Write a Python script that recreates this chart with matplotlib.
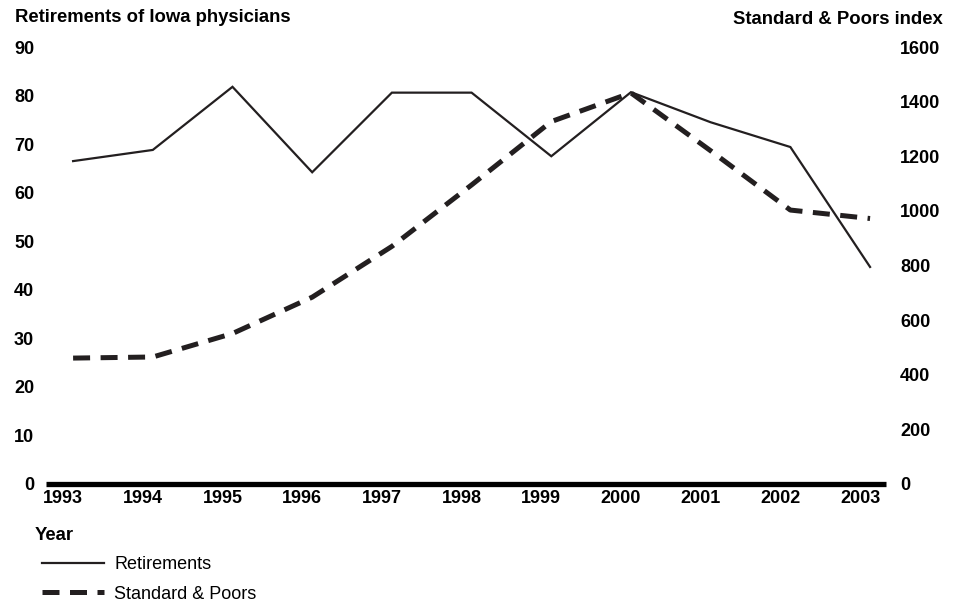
import matplotlib
matplotlib.use("Agg")
import matplotlib.pyplot as plt
import matplotlib.transforms as mtrans
from matplotlib.lines import Line2D

years = [1993, 1994, 1995, 1996, 1997, 1998, 1999, 2000, 2001, 2002, 2003]
retirements = [66.5, 68.8, 81.8, 64.2, 80.6, 80.6, 67.5, 80.7, 74.5, 69.4, 44.7]
sp_index = [461, 465, 551, 684, 870, 1095, 1327, 1432, 1220, 1003, 972]
left_ticks = [0, 10, 20, 30, 40, 50, 60, 70, 80, 90]
right_ticks = [0, 200, 400, 600, 800, 1000, 1200, 1400, 1600]

INK = "#231f20"
plt.rcParams['font.family'] = ['Liberation Sans', 'DejaVu Sans']
FS = 13
FS_T = 13.3

fig = plt.figure(figsize=(9.59, 6.04), dpi=100)
W, H = 959, 604
ax = fig.add_axes([46 / W, (H - 484) / H, 840 / W, 437 / H])
ax2 = ax.twinx()

ax.plot(years, retirements, color=INK, lw=1.6, solid_joinstyle='miter')
ax2.plot(years, sp_index, color=INK, lw=3.6, dashes=[3.4, 2.1], solid_joinstyle='miter')

ax.set_xlim(1992.66, 2003.2)
ax.set_ylim(0, 90)
ax2.set_ylim(0, 1600)

for a in (ax, ax2):
    for s in a.spines.values():
        s.set_visible(False)
    a.tick_params(length=0)
ax.spines['bottom'].set_visible(True)
ax.spines['bottom'].set_linewidth(3.8)
ax.spines['bottom'].set_color('black')
ax.spines['bottom'].set_capstyle('butt')

ax.set_xticks(years)
ax.set_xticklabels([str(y) for y in years], fontsize=FS, fontweight='bold')
ax.tick_params(axis='x', pad=4)
off = mtrans.ScaledTranslation(-10 / 100, 0, fig.dpi_scale_trans)
for lab in ax.get_xticklabels():
    lab.set_transform(lab.get_transform() + off)

ax.set_yticks(left_ticks)
ax.set_yticklabels([str(v) for v in left_ticks], fontsize=FS, fontweight='bold')
ax.tick_params(axis='y', pad=8.5)
ax2.set_yticks(right_ticks)
ax2.set_yticklabels([str(v) for v in right_ticks], fontsize=FS, fontweight='bold')
ax2.tick_params(axis='y', pad=10)

fig.text(15 / W, 1 - 18 / H, "Retirements of Iowa physicians", fontsize=FS_T,
         fontweight='bold', ha='left', va='center')
fig.text(943 / W, 1 - 19 / H, "Standard & Poors index", fontsize=FS_T,
         fontweight='bold', ha='right', va='center')
fig.text(35 / W, 1 - 535 / H, "Year", fontsize=FS_T, fontweight='bold',
         ha='left', va='center')

handles = [Line2D([], [], color=INK, lw=1.6),
           Line2D([], [], color=INK, lw=3.6, dashes=[3.4, 2.1])]
fig.legend(handles, ["Retirements", "Standard & Poors"], loc='upper left',
           bbox_to_anchor=(42 / W, 1 - 556 / H), frameon=False, fontsize=FS,
           handlelength=3.45, handletextpad=0.55, labelspacing=0.7,
           borderpad=0, borderaxespad=0)

fig.savefig("out.png", dpi=100)
